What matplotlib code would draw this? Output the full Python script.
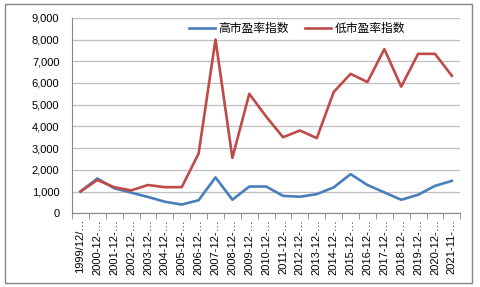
import numpy as np
import matplotlib.pyplot as plt
from matplotlib.patches import Rectangle

plt.rcParams['font.family'] = ['Liberation Sans', 'Noto Sans CJK SC', 'DejaVu Sans']

# category labels (Excel truncates them with an ellipsis)
years = ['1999/12/'] + [f'{y}-12-' for y in range(2000, 2021)] + ['2021-11-']
labels = [y + '…' for y in years]

# index values
high_pe = [1000, 1600, 1150, 950, 750, 530, 400, 600, 1650, 620, 1230, 1230,
           800, 760, 880, 1190, 1800, 1300, 960, 620, 850, 1260, 1490]
low_pe = [1000, 1530, 1200, 1050, 1300, 1200, 1200, 2750, 8000, 2550, 5500, 4450,
          3500, 3810, 3460, 5580, 6420, 6040, 7560, 5830, 7340, 7340, 6330]

fig = plt.figure(figsize=(4.8, 2.87), dpi=100)
ax = fig.add_axes([0.15, 0.257, 0.809, 0.681])

# outer chart frame
fig.patches.append(Rectangle((5 / 480, 4 / 287), 467 / 480, 279 / 287,
                             transform=fig.transFigure, fill=False,
                             edgecolor='#868686', lw=1))

x = np.arange(len(labels))
ax.plot(x, high_pe, color='#4A7EBB', lw=1.9, label='高市盈率指数')
ax.plot(x, low_pe, color='#BE4B48', lw=1.9, label='低市盈率指数')

ax.set_xlim(-0.5, len(labels) - 0.5)
ax.set_ylim(0, 9000)
ax.set_yticks(np.arange(0, 9001, 1000))
ax.set_yticklabels([f'{v:,}' for v in range(0, 9001, 1000)], fontsize=8)
ax.tick_params(axis='y', length=0, pad=9)
ax.grid(axis='y', color='#BFBFBF', lw=0.9)
ax.set_axisbelow(True)

ax.set_xticks(x)
ax.set_xticklabels(labels, rotation=90, fontsize=8)
ax.set_xticks(np.arange(-0.5, len(labels)), minor=True)
ax.tick_params(axis='x', which='major', length=0, pad=4)
ax.tick_params(axis='x', which='minor', length=4, color='#868686')

for side in ['top', 'right']:
    ax.spines[side].set_visible(False)
for side in ['left', 'bottom']:
    ax.spines[side].set_color('#868686')

ax.legend(loc='center', bbox_to_anchor=(0.58, 0.947), ncol=2, frameon=False,
          handlelength=2.2, handletextpad=0.3, columnspacing=1.4,
          prop={'family': ['Noto Sans CJK SC'], 'size': 8.5})

fig.savefig('out.png', dpi=100)
